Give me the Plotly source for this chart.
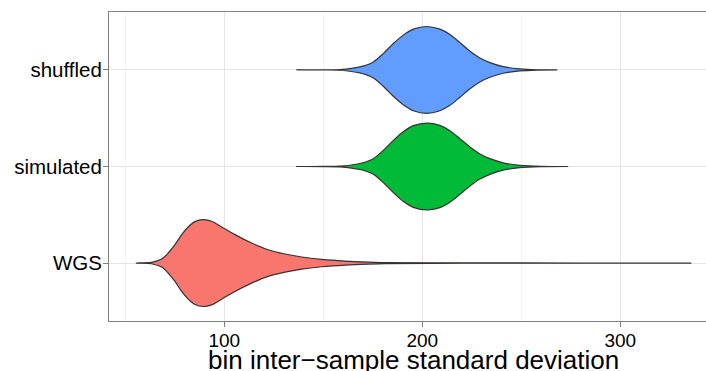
import plotly.graph_objects as go

# Groups, bottom to top
categories = ["WGS", "simulated", "shuffled"]
colors = ["#F8766D", "#00BA38", "#619CFF"]

# Density outlines: x positions (standard deviation) and relative density (peak = 1)
wgs_x = [55.5, 63.3, 68.4, 71.7, 75.1, 78.5, 81.8, 85.2, 89.4, 93.6, 98.7, 105.4,
         113.8, 122.2, 130.7, 139.1, 149.2, 161.0, 172.7, 181.2, 220.0, 280.0, 335.9]
wgs_d = [0.0, 0.016, 0.092, 0.231, 0.423, 0.654, 0.831, 0.954, 1.0, 0.963, 0.831, 0.654,
         0.462, 0.307, 0.208, 0.139, 0.085, 0.046, 0.023, 0.012, 0.004, 0.002, 0.0]

simulated_x = [136.6, 150.0, 158.4, 168.5, 175.3, 180.3, 185.4, 190.4, 195.5, 202.5, 208.9,
               214.0, 219.0, 224.1, 229.1, 234.2, 240.9, 249.3, 260.0, 273.7]
simulated_d = [0.0, 0.001, 0.008, 0.07, 0.18, 0.37, 0.6, 0.8, 0.94, 1.0, 0.945,
               0.82, 0.64, 0.45, 0.29, 0.18, 0.085, 0.028, 0.006, 0.0]

shuffled_x = [136.6, 150.0, 158.4, 168.5, 175.3, 180.3, 185.4, 190.4, 195.5, 202.2, 208.9,
              214.0, 219.0, 224.1, 229.1, 234.2, 240.9, 249.3, 258.0, 268.2]
shuffled_d = [0.0, 0.001, 0.007, 0.069, 0.185, 0.376, 0.607, 0.801, 0.94, 1.0, 0.94,
              0.815, 0.63, 0.432, 0.277, 0.169, 0.076, 0.023, 0.004, 0.0]

x_ticks = [100, 200, 300]
x_minor = 50
x_range = [41.8, 343.3]
half_width = 0.45  # violin width 0.9 in category units

series = [(wgs_x, wgs_d), (simulated_x, simulated_d), (shuffled_x, shuffled_d)]

fig = go.Figure()
for i, ((xs, ds), color) in enumerate(zip(series, colors)):
    pos = i + 1
    upper = [pos + half_width * d for d in ds]
    lower = [pos - half_width * d for d in ds]
    fig.add_trace(go.Scatter(
        x=xs + xs[::-1],
        y=upper + lower[::-1],
        mode="lines",
        fill="toself",
        fillcolor=color,
        line=dict(color="#333333", width=1.2, shape="spline", smoothing=0.8),
        hoverinfo="skip",
        showlegend=False,
    ))

font_family = "Liberation Sans, Arial, sans-serif"

fig.update_layout(
    width=706,
    height=371,
    margin=dict(l=109, r=0, t=12, b=50),
    paper_bgcolor="white",
    plot_bgcolor="white",
    font=dict(family=font_family, color="black"),
    xaxis=dict(
        range=x_range,
        tickmode="array",
        tickvals=x_ticks,
        ticktext=[str(t) for t in x_ticks],
        tickfont=dict(size=19, color="black"),
        ticks="outside",
        ticklen=5,
        tickcolor="#7f7f7f",
        ticklabelstandoff=-3,
        showgrid=True,
        gridcolor="#e5e5e5",
        gridwidth=1,
        minor=dict(dtick=x_minor, tick0=0, showgrid=True, gridcolor="#f5f5f5", gridwidth=1, ticks=""),
        showline=True,
        linecolor="#7f7f7f",
        linewidth=1,
        mirror=True,
        zeroline=False,
        fixedrange=True,
    ),
    yaxis=dict(
        range=[0.4, 3.6],
        tickmode="array",
        tickvals=[1, 2, 3],
        ticktext=categories,
        tickfont=dict(size=20.5, color="black"),
        ticks="outside",
        ticklen=5,
        tickcolor="#7f7f7f",
        ticklabelstandoff=-3,
        showgrid=True,
        gridcolor="#e5e5e5",
        gridwidth=1,
        showline=True,
        linecolor="#7f7f7f",
        linewidth=1,
        zeroline=False,
        fixedrange=True,
    ),
    annotations=[dict(
        text="bin inter\u2212sample standard deviation",
        xref="paper", yref="paper",
        x=0.51, y=0,
        xanchor="center", yanchor="top",
        yshift=-22,
        showarrow=False,
        font=dict(size=26, color="black", family=font_family),
    )],
)

fig.write_html("out.html")
